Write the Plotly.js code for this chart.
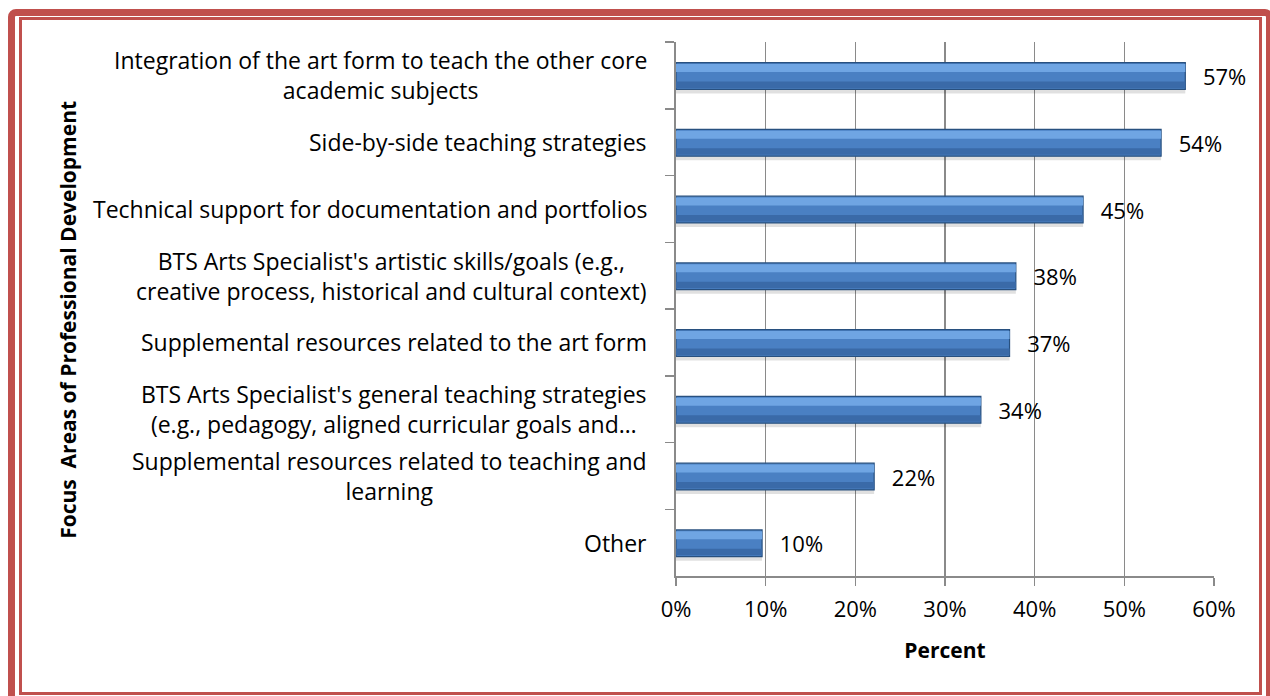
<!DOCTYPE html>
<html>
<head>
<meta charset="utf-8">
<script src="https://cdn.plot.ly/plotly-3.0.1.min.js"></script>
<style>
html,body{margin:0;padding:0;background:#fff;}
#wrap{position:relative;width:1270px;height:696px;overflow:hidden;background:#fff;}
#chart{position:absolute;left:0;top:0;width:1270px;height:696px;}
#outer{position:absolute;left:8px;top:9px;width:1251px;height:681px;border:7px solid #c0504d;border-radius:8px;pointer-events:none;}
#inner{position:absolute;left:19px;top:17px;width:1237px;height:672px;border:3px solid #c0504d;pointer-events:none;}
</style>
</head>
<body>
<div id="wrap">
<div id="chart"></div>
<div id="outer"></div>
<div id="inner"></div>
</div>
<script>
var categories = [
  "Integration of the art form to teach the other core<br>academic subjects",
  "Side-by-side teaching strategies",
  "Technical support for documentation and portfolios",
  "BTS Arts Specialist's artistic skills/goals (e.g.,<br>creative process, historical and cultural context)",
  "Supplemental resources related to the art form",
  "BTS Arts Specialist's general teaching strategies<br>(e.g., pedagogy, aligned curricular goals and…",
  "Supplemental resources related to teaching and<br>learning",
  "Other"
];
var values = [56.8, 54.1, 45.4, 37.9, 37.2, 34.0, 22.1, 9.6];
var labels = ["57%", "54%", "45%", "38%", "37%", "34%", "22%", "10%"];
var xTicks = [0, 10, 20, 30, 40, 50, 60];
var xTickLabels = ["0%", "10%", "20%", "30%", "40%", "50%", "60%"];

var FONT = "'Open Sans', 'Noto Sans', sans-serif";
var FS = 23;

var shadow = {
  type: 'bar', orientation: 'h', y: categories, x: values,
  width: 0.40, offset: -0.13,
  marker: {color: 'rgba(0,0,0,0.12)'},
  hoverinfo: 'skip', showlegend: false
};
var main = {
  type: 'bar', orientation: 'h', y: categories, x: values,
  width: 0.40, offset: -0.19,
  marker: {color: '#4a80c3', line: {color: '#28507f', width: 1.2}},
  text: labels.map(function(s){return '\u2002\u2009' + s;}),
  textposition: 'outside', constraintext: 'none',
  textfont: {family: FONT, size: 22, color: '#000'},
  cliponaxis: false,
  hoverinfo: 'skip', showlegend: false
};
var light = {
  type: 'bar', orientation: 'h', y: categories, x: values,
  width: 0.12, offset: -0.17,
  marker: {color: '#6fa5e3'},
  hoverinfo: 'skip', showlegend: false
};
var dark = {
  type: 'bar', orientation: 'h', y: categories, x: values,
  width: 0.10, offset: 0.09,
  marker: {color: '#3a6aa8'},
  hoverinfo: 'skip', showlegend: false
};

var annotations = categories.map(function(c){
  return {
    xref: 'paper', yref: 'y', x: -0.050, y: c,
    xanchor: 'right', yanchor: 'middle', align: 'center',
    text: c, showarrow: false,
    font: {family: FONT, size: FS, color: '#000'}
  };
});

var layout = {
  width: 1270, height: 696,
  paper_bgcolor: '#fff', plot_bgcolor: '#fff',
  margin: {l: 676, r: 56, t: 42, b: 120, pad: 0},
  barmode: 'overlay',
  font: {family: FONT, size: 22, color: '#000'},
  xaxis: {
    range: [0, 60], tickvals: xTicks, ticktext: xTickLabels,
    showgrid: true, gridcolor: '#8a8a8a', gridwidth: 1.5,
    showline: true, linecolor: '#8a8a8a', linewidth: 2,
    ticks: 'outside', ticklen: 8, tickcolor: '#8a8a8a', tickwidth: 1.5,
    ticklabelstandoff: 5,
    zeroline: false, fixedrange: true,
    tickfont: {family: FONT, size: 22, color: '#000'},
    title: {text: '<b>Percent</b>', font: {family: FONT, size: 21, color: '#000'}, standoff: 21}
  },
  yaxis: {
    type: 'category', autorange: 'reversed',
    showticklabels: false, showgrid: false,
    showline: true, linecolor: '#8a8a8a', linewidth: 2,
    ticks: 'outside', ticklen: 9, tickcolor: '#8a8a8a', tickwidth: 1.5,
    tickson: 'boundaries', zeroline: false, fixedrange: true,
    title: {text: '<b>Focus  Areas of Professional Development\u00a0\u00a0\u00a0\u00a0</b>', font: {family: FONT, size: 21, color: '#000'}, standoff: 592}
  },
  annotations: annotations
};

Plotly.newPlot('chart', [shadow, main, light, dark], layout, {displayModeBar: false, staticPlot: true});
</script>
</body>
</html>
